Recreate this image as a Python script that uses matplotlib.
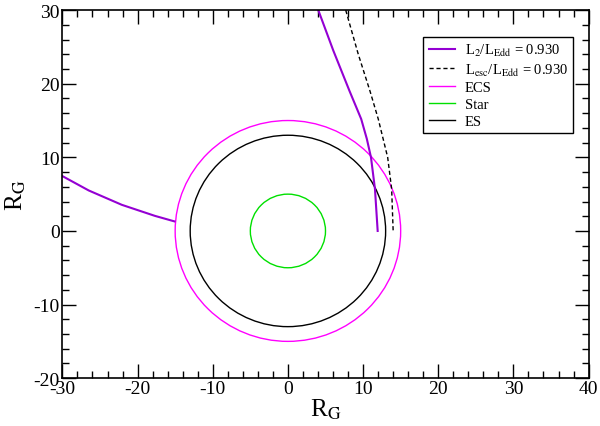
import matplotlib
matplotlib.use("Agg")
import matplotlib.pyplot as plt
from matplotlib.patches import Circle
from matplotlib.lines import Line2D

plt.rcParams['font.family'] = ['Liberation Serif', 'DejaVu Serif']
plt.rcParams['mathtext.fontset'] = 'stix'
plt.rcParams['axes.unicode_minus'] = False

# L2 surface, outer branch (right) and inner branch (left)
l2_right_x = [4.04, 6.04, 8.2, 9.75, 10.5, 11.05, 11.58, 11.94]
l2_right_y = [30.0, 24.5, 19.0, 15.2, 12.5, 10.0, 5.7, 0.0]
l2_left_x = [-30.0, -26.5, -22.1, -17.7, -15.1]
l2_left_y = [7.45, 5.5, 3.55, 2.05, 1.3]

# Lesc surface
lesc_x = [7.69, 9.36, 10.92, 12.02, 13.27, 13.8, 14.0]
lesc_y = [30.0, 24.0, 19.0, 15.2, 10.0, 5.7, 0.0]

# circle radii
r_ecs = 15.0
r_star = 5.0
r_es = 13.0

violet = '#9400d3'
magenta = '#ff00ff'
green = '#00e000'

fig = plt.figure(figsize=(6.0, 4.27), dpi=100)
ax = fig.add_axes([0.104, 0.112, 0.877, 0.862])

ax.plot(l2_right_x, l2_right_y, color=violet, lw=1.5)
ax.plot(l2_left_x, l2_left_y, color=violet, lw=1.5)
ax.plot(lesc_x, lesc_y, color='black', lw=1.0, ls=(0, (3, 2)))

ax.add_patch(Circle((0, 0), r_ecs, fill=False, ec=magenta, lw=1.0))
ax.add_patch(Circle((0, 0), r_star, fill=False, ec=green, lw=1.0))
ax.add_patch(Circle((0, 0), r_es, fill=False, ec='black', lw=1.0))

ax.set_xlim(-30, 40)
ax.set_ylim(-20, 30)
ax.set_xticks(range(-30, 41, 10))
ax.set_yticks(range(-20, 31, 10))
ax.set_xticks(range(-30, 41, 2), minor=True)
ax.set_yticks(range(-20, 31, 2), minor=True)
ax.tick_params(which='both', direction='in', top=True, right=True,
               labelsize=14, width=1)
ax.tick_params(which='major', length=10)
ax.tick_params(which='minor', length=5)
ax.tick_params(axis='x', pad=1)
ax.tick_params(axis='y', pad=2)
for s in ax.spines.values():
    s.set_linewidth(1.2)

ax.set_xlabel(r'R$_\mathrm{G}$', fontsize=18, labelpad=0)
ax.set_ylabel(r'R$_\mathrm{G}$', fontsize=18, labelpad=4)

handles = [
    Line2D([], [], color=violet, lw=1.5),
    Line2D([], [], color='black', lw=1.0, ls=(0, (3, 2))),
    Line2D([], [], color=magenta, lw=1.0),
    Line2D([], [], color=green, lw=1.0),
    Line2D([], [], color='black', lw=1.0),
]
labels = [
    r'L$_2$/L$_\mathrm{Edd}$ = 0.930',
    r'L$_\mathrm{esc}$/L$_\mathrm{Edd}$ = 0.930',
    'ECS',
    'Star',
    'ES',
]
leg = ax.legend(handles, labels, loc='upper right', bbox_to_anchor=(0.971, 0.928),
                borderaxespad=0, fontsize=10.5, handlelength=1.8, handletextpad=0.7,
                labelspacing=0.25, fancybox=False, framealpha=1, borderpad=0.35)
leg.get_frame().set_edgecolor('black')
leg.get_frame().set_linewidth(1.0)

fig.savefig('out.png', dpi=100)
